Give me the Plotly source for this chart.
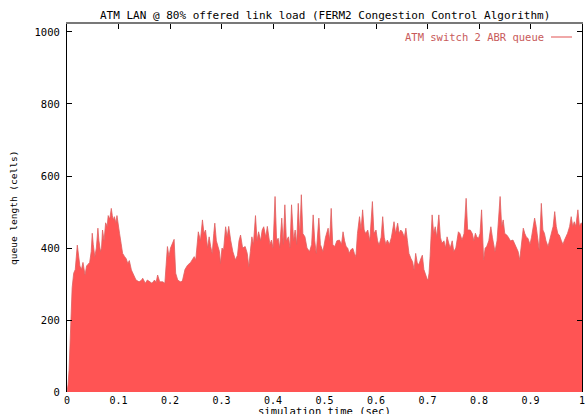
import plotly.graph_objects as go

TITLE = "ATM LAN @ 80% offered link load (FERM2 Congestion Control Algorithm)"
SERIES_NAME = "ATM switch 2 ABR queue"
X_LABEL = "simulation time (sec)"
Y_LABEL = "queue length (cells)"

time_s = [
    0.000, 0.002, 0.004, 0.006, 0.008, 0.010, 0.013, 0.016, 0.020, 0.023,
    0.025, 0.028, 0.031, 0.035, 0.038, 0.041, 0.044, 0.047, 0.049, 0.051,
    0.054, 0.057, 0.060, 0.062, 0.065, 0.067, 0.069, 0.072, 0.075, 0.078,
    0.080, 0.083, 0.086, 0.088, 0.090, 0.092, 0.095, 0.097, 0.100, 0.102,
    0.105, 0.108, 0.112, 0.115, 0.118, 0.121, 0.125, 0.129, 0.134, 0.140,
    0.145, 0.147, 0.152, 0.156, 0.160, 0.165, 0.170, 0.173, 0.176, 0.180,
    0.186, 0.190, 0.195, 0.198, 0.201, 0.205, 0.208, 0.211, 0.215, 0.220,
    0.224, 0.229, 0.234, 0.240, 0.247, 0.250, 0.255, 0.259, 0.263, 0.266,
    0.269, 0.273, 0.276, 0.279, 0.282, 0.285, 0.287, 0.290, 0.293, 0.296,
    0.298, 0.301, 0.304, 0.308, 0.311, 0.314, 0.318, 0.322, 0.327, 0.331,
    0.334, 0.337, 0.341, 0.346, 0.350, 0.353, 0.356, 0.359, 0.362, 0.366,
    0.369, 0.372, 0.376, 0.379, 0.382, 0.386, 0.389, 0.391, 0.394, 0.397,
    0.400, 0.404, 0.407, 0.410, 0.413, 0.417, 0.420, 0.423, 0.426, 0.430,
    0.433, 0.436, 0.440, 0.443, 0.446, 0.449, 0.452, 0.455, 0.458, 0.462,
    0.466, 0.471, 0.475, 0.478, 0.481, 0.484, 0.489, 0.492, 0.497, 0.502,
    0.507, 0.510, 0.513, 0.516, 0.520, 0.524, 0.529, 0.533, 0.536, 0.539,
    0.542, 0.545, 0.548, 0.551, 0.555, 0.558, 0.561, 0.564, 0.568, 0.571,
    0.574, 0.577, 0.580, 0.584, 0.588, 0.593, 0.596, 0.600, 0.603, 0.606,
    0.610, 0.613, 0.616, 0.619, 0.622, 0.626, 0.630, 0.635, 0.638, 0.642,
    0.645, 0.648, 0.651, 0.655, 0.658, 0.661, 0.664, 0.668, 0.671, 0.674,
    0.677, 0.680, 0.683, 0.687, 0.690, 0.693, 0.696, 0.699, 0.701, 0.703,
    0.705, 0.709, 0.712, 0.715, 0.718, 0.722, 0.725, 0.728, 0.732, 0.735,
    0.738, 0.741, 0.744, 0.748, 0.751, 0.755, 0.760, 0.763, 0.767, 0.771,
    0.775, 0.778, 0.783, 0.787, 0.790, 0.793, 0.796, 0.799, 0.802, 0.805,
    0.809, 0.812, 0.815, 0.819, 0.823, 0.826, 0.829, 0.831, 0.835, 0.838,
    0.841, 0.844, 0.847, 0.850, 0.854, 0.857, 0.861, 0.866, 0.870, 0.873,
    0.876, 0.879, 0.883, 0.886, 0.889, 0.892, 0.895, 0.899, 0.902, 0.905,
    0.908, 0.911, 0.914, 0.917, 0.921, 0.924, 0.927, 0.930, 0.934, 0.937,
    0.940, 0.944, 0.947, 0.950, 0.953, 0.956, 0.960, 0.963, 0.966, 0.969,
    0.972, 0.976, 0.979, 0.982, 0.985, 0.988, 0.992, 0.995, 0.998, 1.000,
]

queue_cells = [
    0, 20, 60, 150, 230, 290, 330, 340, 408, 370,
    350, 340, 360, 325, 350, 355, 360, 390, 441, 410,
    376, 400, 455, 420, 390, 400, 450, 420, 470, 460,
    490, 480, 510, 490, 478, 487, 470, 490, 450, 441,
    413, 385, 376, 370, 357, 365, 339, 325, 311, 306,
    311, 316, 302, 311, 306, 302, 311, 304, 325, 306,
    306, 302, 404, 376, 400, 413, 424, 330, 311, 306,
    308, 340, 352, 360, 376, 367, 445, 420, 478, 440,
    450, 400, 431, 404, 385, 440, 469, 420, 404, 390,
    357, 400, 394, 459, 430, 460, 420, 390, 367, 380,
    420, 436, 400, 404, 385, 348, 390, 431, 410, 490,
    420, 445, 420, 450, 459, 430, 460, 441, 410, 422,
    400, 543, 420, 427, 400, 483, 410, 520, 420, 431,
    400, 520, 420, 450, 410, 524, 430, 548, 440, 431,
    400, 390, 410, 492, 420, 385, 483, 410, 390, 430,
    455, 420, 510, 410, 404, 420, 422, 410, 445, 420,
    404, 400, 385, 395, 399, 385, 376, 440, 487, 450,
    506, 450, 440, 450, 420, 529, 440, 450, 420, 408,
    430, 487, 430, 410, 422, 410, 430, 473, 440, 469,
    440, 450, 445, 430, 455, 420, 385, 370, 362, 339,
    385, 360, 353, 370, 380, 340, 325, 315, 311, 330,
    376, 492, 440, 459, 430, 492, 430, 413, 420, 400,
    431, 410, 399, 420, 390, 400, 445, 440, 422, 440,
    538, 450, 450, 440, 420, 441, 430, 427, 440, 506,
    367, 400, 404, 420, 459, 430, 400, 390, 420, 478,
    543, 460, 478, 440, 436, 430, 420, 422, 410, 400,
    390, 367, 420, 455, 440, 430, 427, 410, 430, 460,
    483, 460, 430, 394, 524, 450, 441, 420, 404, 420,
    431, 460, 501, 460, 440, 436, 420, 410, 422, 430,
    441, 460, 487, 460, 473, 460, 506, 460, 469, 469,
]

x_ticks = [0, 0.1, 0.2, 0.3, 0.4, 0.5, 0.6, 0.7, 0.8, 0.9, 1]
x_tick_text = ["0", "0.1", "0.2", "0.3", "0.4", "0.5", "0.6", "0.7", "0.8", "0.9", "1"]
y_ticks = [0, 200, 400, 600, 800, 1000]
y_tick_text = ["0", "200", "400", "600", "800", "1000"]

FONT = "DejaVu Sans Mono"
FILL = "rgb(255,84,84)"
EDGE = "rgb(222,96,96)"

fig = go.Figure()
fig.add_trace(go.Scatter(
    x=time_s, y=queue_cells, mode="lines", fill="tozeroy",
    fillcolor=FILL, line=dict(color=EDGE, width=0.8),
    name=SERIES_NAME, showlegend=False, hoverinfo="skip",
))
# invisible trace to carry the mirrored (top/right) tick axes
fig.add_trace(go.Scatter(x=[0, 1], y=[0, 0], xaxis="x2", yaxis="y2",
                         mode="lines", line=dict(width=0), showlegend=False,
                         hoverinfo="skip"))

Y_MAX = 1022.2
fig.update_layout(
    width=587, height=414,
    margin=dict(l=67, r=2, t=24, b=22),
    paper_bgcolor="white", plot_bgcolor="white",
    font=dict(family=FONT, size=11, color="black"),
    xaxis=dict(range=[0, 1], tickvals=x_ticks, ticktext=x_tick_text,
               showgrid=False, zeroline=False, showline=False,
               ticks="", tickfont=dict(size=10), ticklabelstandoff=1,
               ticklabeloverflow="allow"),
    yaxis=dict(range=[0, Y_MAX], tickvals=y_ticks, ticktext=y_tick_text,
               showgrid=False, zeroline=False, showline=True,
               linecolor="black", linewidth=1.2,
               ticks="inside", ticklen=5, tickcolor="black",
               tickfont=dict(size=10.5), ticklabelstandoff=4),
    xaxis2=dict(range=[0, 1], overlaying="x", side="top", tickvals=x_ticks,
                showticklabels=False, showgrid=False, zeroline=False,
                showline=True, linecolor="rgb(120,120,120)", linewidth=1.5,
                ticks="inside", ticklen=5, tickcolor="black"),
    yaxis2=dict(range=[0, Y_MAX], overlaying="y", side="right", tickvals=y_ticks,
                showticklabels=False, showgrid=False, zeroline=False,
                showline=True, linecolor="black", linewidth=1,
                ticks="inside", ticklen=5, tickcolor="black"),
    annotations=[
        dict(text=TITLE, xref="paper", yref="paper", x=0.5, y=1,
             yshift=9, xanchor="center", yanchor="middle", showarrow=False,
             font=dict(size=11)),
        dict(text=X_LABEL, xref="paper", yref="paper", x=0.5, y=0,
             yshift=-19, xanchor="center", yanchor="middle", showarrow=False,
             font=dict(size=10.5)),
        dict(text=Y_LABEL, xref="paper", yref="paper", x=0, y=0.5,
             xshift=-54, xanchor="center", yanchor="middle", showarrow=False,
             textangle=-90, font=dict(size=9.5)),
        dict(text=SERIES_NAME, xref="paper", yref="paper", x=1, y=1,
             xshift=-36, yshift=-13, xanchor="right", yanchor="middle",
             showarrow=False, font=dict(size=10.5, color="rgb(200,90,90)")),
    ],
)
# legend sample line (paper-pixel placement)
fig.add_shape(type="line", xref="paper", yref="paper",
              xsizemode="pixel", ysizemode="pixel", xanchor=1, yanchor=1,
              x0=-31, x1=-10, y0=-13, y1=-13,
              line=dict(color="rgb(230,110,110)", width=1.2))

fig.write_html("out.html")
